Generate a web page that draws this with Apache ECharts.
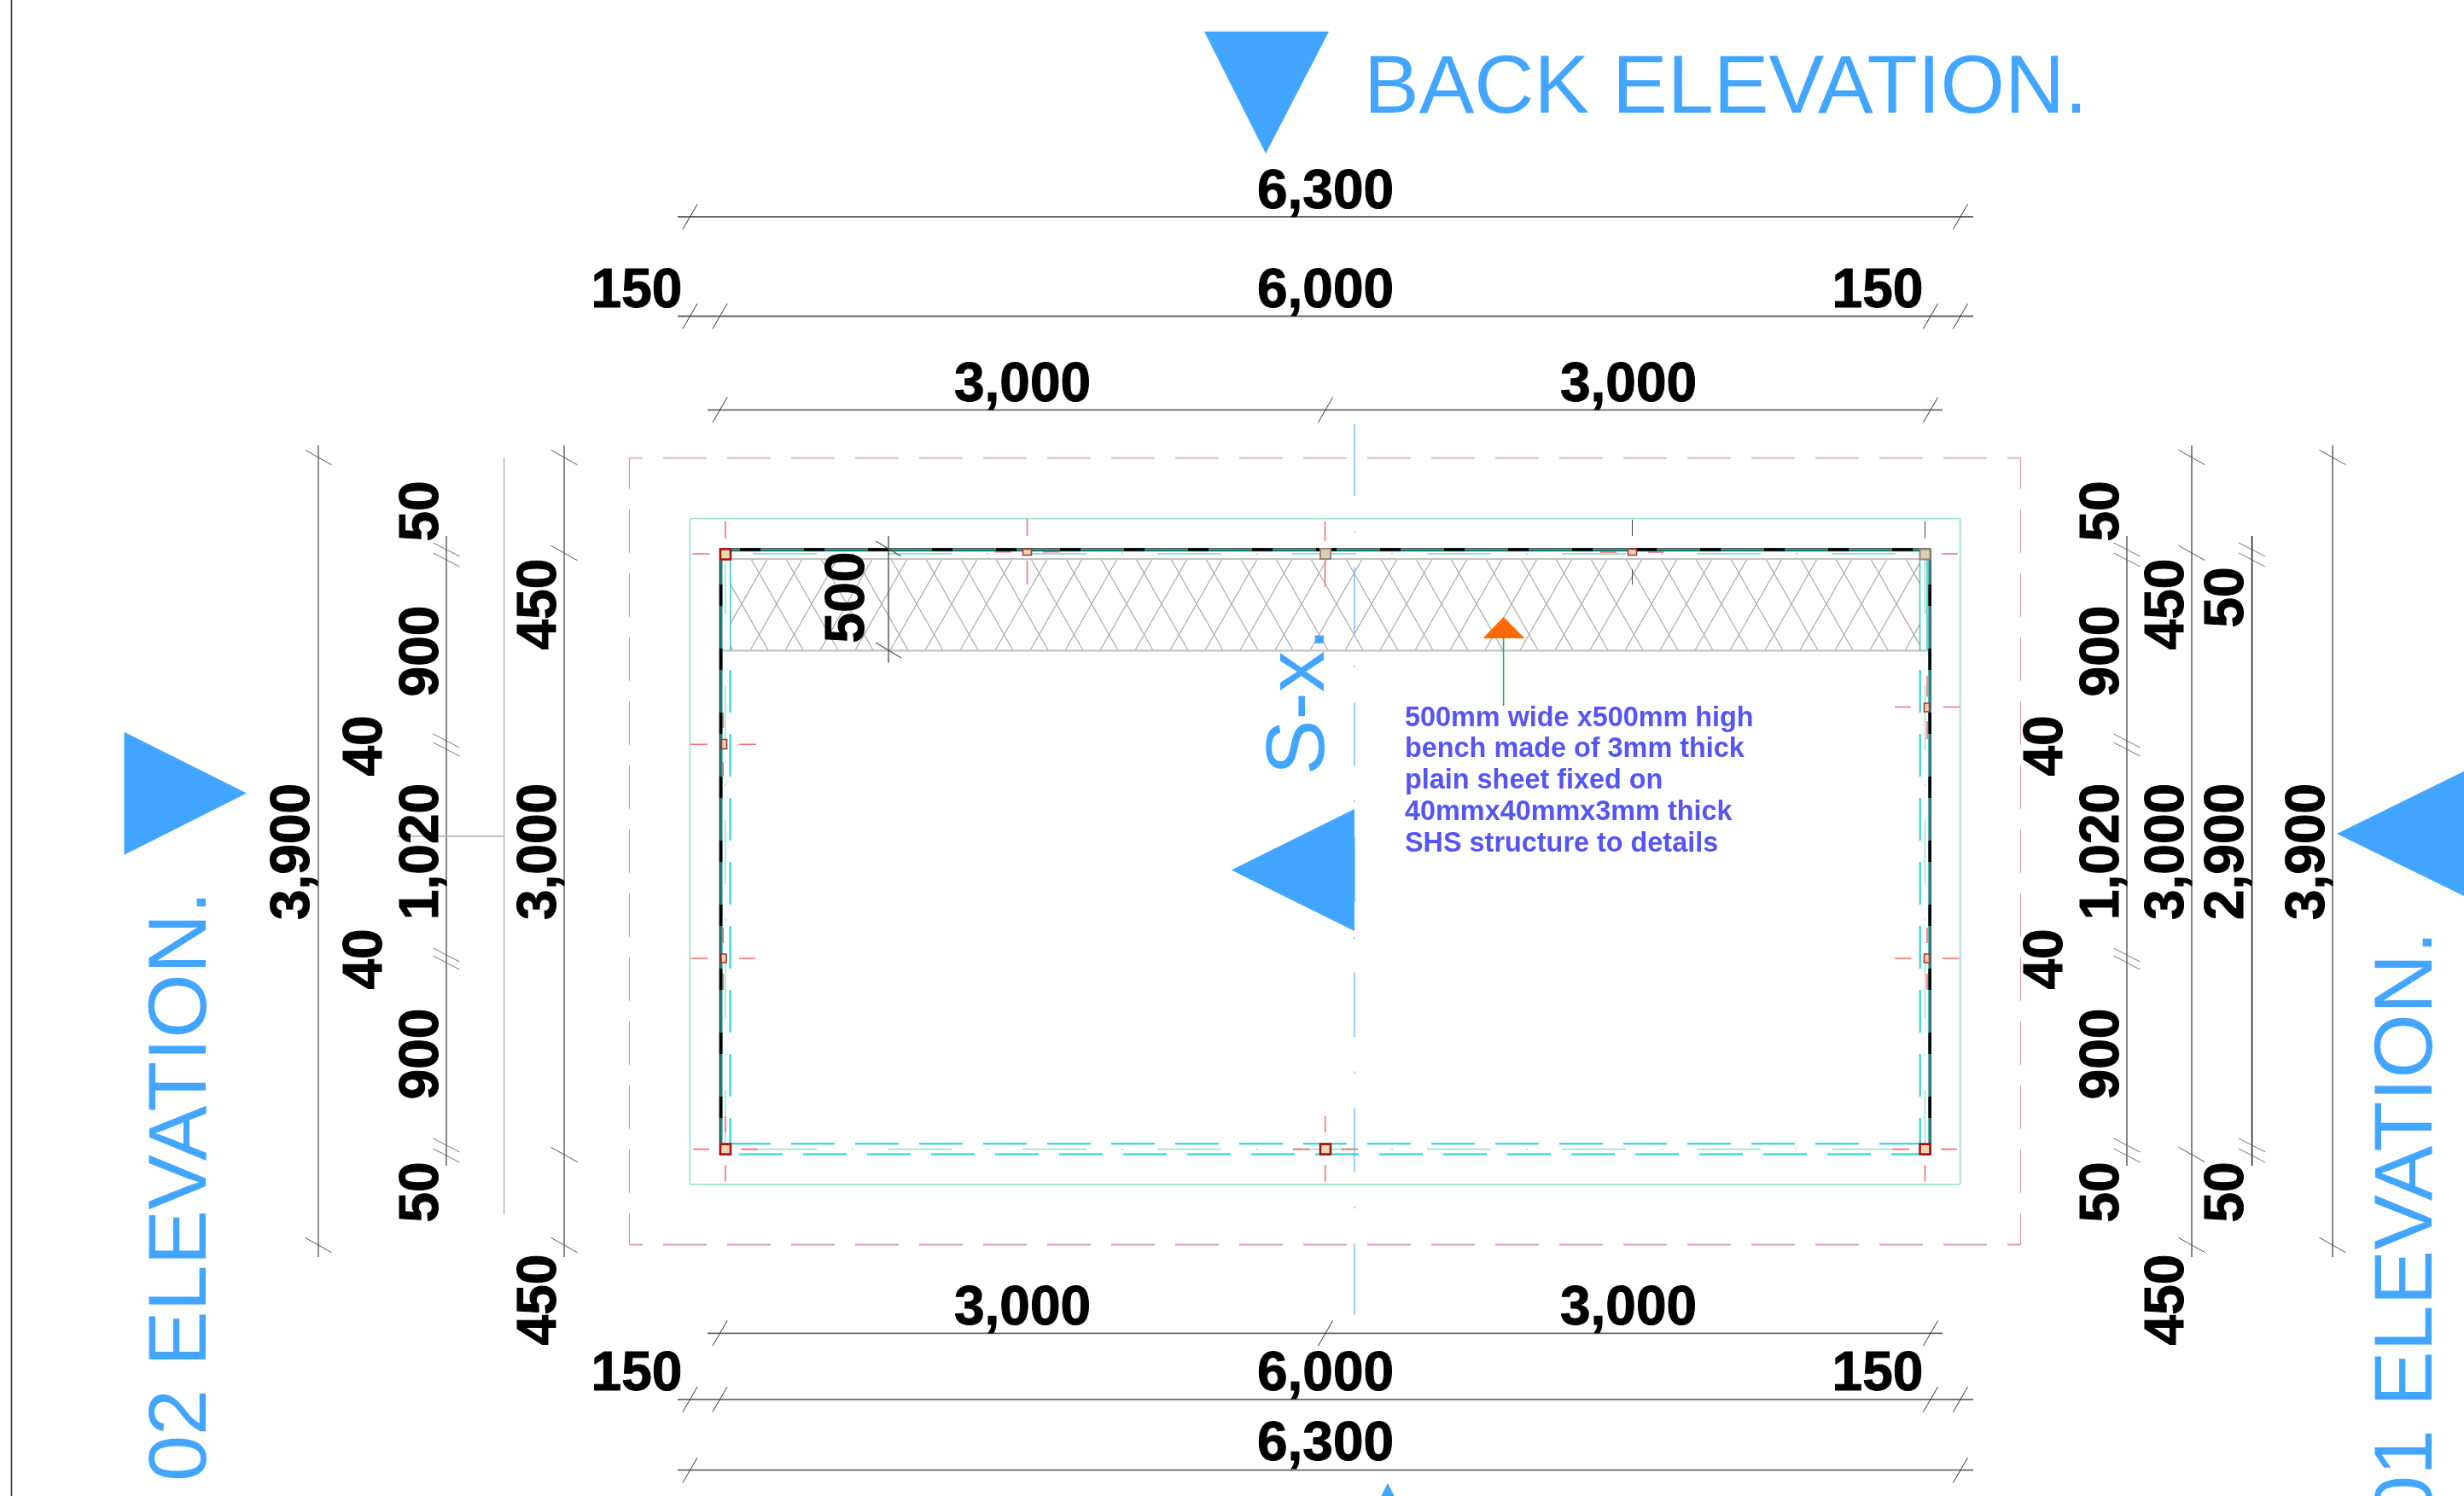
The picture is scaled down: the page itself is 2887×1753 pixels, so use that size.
<!DOCTYPE html>
<html><head><meta charset="utf-8">
<style>html,body{margin:0;padding:0;background:#fff}#c{width:2887px;height:1753px}</style>
<script src="https://cdn.jsdelivr.net/npm/echarts@6/dist/echarts.min.js"></script>
</head><body><div id="c"></div>
<script>
// ---- sheet extent (axis units) ----
const sheetW = 2887, sheetH = 1753;

// ---- texts ----
const dimLabelsH = ["6,300","6,000","150","150","3,000","3,000","3,000","3,000","150","150","6,000","6,300"];
const dimLabelsHX = [1553,1553,746,2200,1198,1908,1198,1908,746,2200,1553,1553];
const dimLabelsHY = [226.5,342.5,342.5,342.5,452.5,452.5,1534,1534,1611.5,1611.5,1611.5,1693.5];
const dimLabelsV = ["3,900","50","900","1,020","900","50","40","40","450","3,000","450","500",
                    "40","40","50","900","1,020","900","50","450","3,000","450","50","2,900","50","3,900"];
const dimLabelsVX = [344,495,495,495,495,495,429,429,633,633,633,994,
                     2398,2398,2464,2464,2464,2464,2464,2540,2540,2540,2610,2610,2610,2705];
const dimLabelsVY = [998,599,763,998,1235,1397,874,1124,708,998,1523,700,
                     874,1124,599,763,998,1235,1397,708,998,1523,700,998,1397,998];
const sectionTitles = ["BACK ELEVATION.","02 ELEVATION.","01 ELEVATION.","S-x."];
const sectionTitleX = [2022,214,2822,1524];
const sectionTitleY = [105,1390,1437,822];
const sectionTitleRot = [0,90,90,90];
const noteLines = ["500mm wide x500mm high","bench made of 3mm thick","plain sheet fixed on","40mmx40mmx3mm thick","SHS structure to details"];
const noteX = 1646;
const noteY = [842,878.5,915,952,989.5];

// ---- dimension lines ----
const dimLinesH = [[794,254,2312,254],[794,370.5,2312,370.5],[829,480.3,2276,480.3],
                   [829,1562.3,2276,1562.3],[794,1639.8,2312,1639.8],[794,1722.7,2312,1722.7]];
const dimTicksHX = [[808.5,2297],[808.5,843.5,2262,2297],[843.5,1553,2262],[843.5,1553,2262],[808.5,843.5,2262,2297],[808.5,2297]];
const dimLinesV = [[373,522,1473],[661,522,1473],[2568,522,1473],[2733,522,1473]];
const dimLinesVFine = [[523,628,1366],[2492,628,1366]];
const fineTicksY = [644,656,868,878,1119,1128,1342,1354];
const dimLinesVEnd = [2638.6,628,1366];
const endTicksY = [644,656,1342,1354];
const dimTicksSingleV = [[373,536],[373,1459],[661,536],[661,648],[661,1353],[661,1459],[2568,536],[2568,648],[2568,1353],[2568,1459],[2733,536],[2733,1459]];
const benchDim = [[1041,628,1041,776.7]];
const benchDimTicks = [[1026,634,1056,652],[1026,753,1056,771]];
const grayLeader = [[590.6,536.5,590.6,1423],[465,980,590.6,980]];

// ---- plan outlines ----
const outerDash = [[[737.5,536.7,2367.5,536.7],35.5,"#e0bcbc",2],[[737.5,1458.6,2367.5,1458.6],35.5,"#d9a3a3",2],
                   [[737.5,536.7,737.5,1458.6],15,"#ee8f8f",1.2],[[2367.5,536.7,2367.5,1458.6],15,"#dba0a0",1.2]];
const slabRect = [[808.5,607.7,2296.7,607.7],[2296.7,607.7,2296.7,1387.8],[808.5,1387.8,2296.7,1387.8],[808.5,607.7,808.5,1387.8]];
const wallTop = [845,645,2262,645];
const wallLeft = [845.3,643,845.3,1353];
const wallRight = [2260.6,643,2260.6,1353];
const wallEdge = [[843,642.8,2262,642.8],[843.4,642.8,843.4,1353],[2262.2,642.8,2262.2,1353]];
const innerDashDot = [[858,649,2250,649],[858,1346.6,2250,1346.6]];
const innerDashDotV = [[850,645,850,1345],[2255.5,645,2255.5,1345]];
const benchEdges = [[845,655,2250,655],[845,762.3,2261,762.3]];
const benchEnds = [[855.8,655,855.8,762.3],[2249.5,655,2249.5,762.3],[2258,655,2258,762.3]];
const benchTopCyan = [856,655,2250,655];
const cyanBottom1 = [852,1340.3,2250,1340.3];
const cyanBottom2 = [852,1352.4,2250,1352.4];
const cyanSideL = [855.6,785,855.6,1342];
const cyanSideR = [2249.7,785,2249.7,1342];

// ---- bench hatch: where each brace meets the bench top ----
const hatchDown = [798,839,880,921,962,1003,1044,1085,1126,1167,1208,1249,1290,1331,1372,1413,1454,1495,1536,1577,1618,1659,1700,1741,1782,1823,1864,1905,1946,1987,2028,2069,2110,2151,2192,2233];
const hatchUp = [899,940,981,1022,1063,1104,1145,1186,1227,1268,1309,1350,1391,1432,1473,1514,1555,1596,1637,1678,1719,1760,1801,1842,1883,1924,1965,2006,2047,2088,2129,2170,2211,2252,2293];
const hatchTop = 655, hatchBottom = 762, hatchRun = 61, hatchL = 856, hatchR = 2249.5;

// ---- column centre-line stubs ----
const gridStubs = [[811.6,649,831.7,649],[2275,649,2294,649],[1165.6,646.7,1184.8,646.7],[1222,646.7,1241.5,646.7],
 [809,872.3,829,872.3],[866,872.3,885.7,872.3],[809.5,1123,829,1123],[866,1123,885,1123],
 [2220,828.5,2239,828.5],[2277,828.5,2296,828.5],[2220,1123,2239.4,1123],[2276,1123,2295.6,1123],
 [1875,647,1894,647],[1931,647,1950,647],
 [812,1346.6,831,1346.6],[868,1346.6,887.6,1346.6],[1515,1346.6,1534.6,1346.6],[1571,1346.6,1591,1346.6],[2217.6,1346.6,2237,1346.6],[2274,1346.6,2293,1346.6],
 [850,610.7,850,630.7],[1203.5,608,1203.5,628],[1203.5,656.7,1203.5,685],[1552.5,611,1552.5,634],[1552.5,657,1552.5,687.6],
 [847.3,835,847.3,853],[847.3,893,847.3,910],[847.3,1087,847.3,1105],[847.3,1141,847.3,1160],
 [850,1308,850,1327],[850,1365,850,1384.5],[1552.7,1308,1552.7,1327],[1552.7,1365,1552.7,1384.5],[2255.5,1365,2255.5,1384.5],
 [2258,791.7,2258,816.6],[2258,845,2258,866],[2258,1087,2258,1105],[2258,1141,2258,1160]];
const darkStubs = [[1912.5,609,1912.5,628],[1912.5,667,1912.5,685],[2255.5,610.7,2255.5,631]];

// ---- columns: centre x, centre y, width, height ----
const columnsBig = [[850,649.5,12,12],[850,1346.6,12,12],[1553,1346.6,12,12],[2255.5,1346.6,12,12]];
const columnsGrey = [[1553,649,12,12],[2255.5,649.5,12,12]];
const columnsSmall = [[1203.5,647,10,7],[1912.5,647,10,7],[848.5,872,6,11],[848,1123,6,10],[2257.5,829,6,10],[2257.5,1123,6,10]];

// ---- section axis ----
const axisDashes = [[497,581],[665,742],[823.5,897],[981,1057],[1139.6,1215],[1298,1373.6],[1457,1540.6]];
const axisDots = [623,781,939,1099,1256.6,1415];
const axisX = 1587;

// ---- markers ----
const blueTriangles = [[1411,37,1557,37,1483,180],[145.5,857.7,289,929.5,145.5,1001.8],
                       [2738,977,2887,903.7,2887,1050],[1442.7,1019.4,1587,948,1587,1091],[1626,1738,1553,1881,1699,1881]];
const orangeTriangle = [[1761.6,723,1737.4,748,1786.5,748]];
const leaderLine = [[1761.6,748,1761.6,827]];
const sheetBorder = [[13.5,0,13.5,1753]];

// ---- helpers ----
const series = [];
function lines(segs, color, width, extra){
  const data = [];
  segs.forEach(s => { data.push([s[0],s[1]],[s[2],s[3]],['-','-']); });
  series.push({type:'line',data,symbol:'none',silent:true,animation:false,clip:false,connectNulls:false,z:(extra&&extra.z)||2,
    lineStyle:Object.assign({color,width,cap:'butt'},extra&&extra.dash?{type:extra.dash,dashOffset:extra.offset||0}:{})});
}
function polys(rows, color, z){
  series.push({type:'custom',data:rows,silent:true,animation:false,clip:true,z:z||3,
    renderItem:(p,api)=>{
      const pts=[];
      for(let i=0;i<6;i+=2) pts.push(api.coord([api.value(i),api.value(i+1)]));
      return {type:'polygon',shape:{points:pts},style:{fill:color}};
    }});
}
function boxes(rows, fill, stroke, lw){
  series.push({type:'custom',data:rows,silent:true,animation:false,z:4,
    renderItem:(p,api)=>{
      const cx=api.value(0),cy=api.value(1),w=api.value(2),h=api.value(3);
      const a=api.coord([cx-w/2,cy-h/2]),b=api.coord([cx+w/2,cy+h/2]);
      return {type:'rect',shape:{x:a[0],y:a[1],width:b[0]-a[0],height:b[1]-a[1]},style:{fill,stroke,lineWidth:lw}};
    }});
}
function texts(labels, xs, ys, rots, font, color, align, strokeW){
  const rows = labels.map((t,i)=>[xs[i],ys[i]]);
  series.push({type:'custom',data:rows,animation:false,clip:false,z:6,
    renderItem:(p,api)=>{
      const c=api.coord([api.value(0),api.value(1)]);
      return {type:'text',x:c[0],y:c[1],rotation:(rots[p.dataIndex]||0)*Math.PI/180,
        style:Object.assign({text:labels[p.dataIndex],font,fill:color,align:align||'center',verticalAlign:'middle'},
          strokeW?{stroke:color,lineWidth:strokeW}:{})};
    }});
}
function clipped(start, dir){
  // one hatch brace, trimmed to the bench ends
  let x1=start,y1=hatchTop,x2=start+dir*hatchRun,y2=hatchBottom;
  const k=(y2-y1)/(x2-x1);
  const trim=(x,y,lim)=>[lim,y+(lim-x)*k];
  if(x1<hatchL){[x1,y1]=trim(x1,y1,hatchL);} if(x1>hatchR){[x1,y1]=trim(x1,y1,hatchR);}
  if(x2<hatchL){[x2,y2]=trim(x2,y2,hatchL);} if(x2>hatchR){[x2,y2]=trim(x2,y2,hatchR);}
  return [x1,y1,x2,y2];
}

// ---- layers ----
lines(sheetBorder,'#333',1.6);
outerDash.forEach(d=>lines([d[0]],d[2],d[3],{dash:[51,24],offset:d[1]}));
lines(slabRect,'#9fe2d4',1.8);

lines(hatchDown.map(a=>clipped(a,1)).concat(hatchUp.map(a=>clipped(a,-1))),'#adadad',1.3);
lines([benchTopCyan],'#4fd6d6',1.6,{dash:[51,24]});
lines(benchEdges,'#c2c2c2',2.2);
lines(benchEnds,'#35c9c9',1.5);
lines(innerDashDot,'#9fe2cf',1.8,{dash:[75,41,2,40],offset:134});
lines(innerDashDotV,'#9fe2cf',1.5,{dash:[75,41,2,40]});
lines([cyanBottom1],'#22d3d3',2,{dash:[51,24]});
lines([cyanBottom2],'#22d3d3',2,{dash:[51,24],offset:61});
lines([cyanSideL,cyanSideR],'#22cfcf',2,{dash:[50,25]});

lines(gridStubs,'#ff6a6a',1.6);
lines(darkStubs,'#444',1);
lines(wallEdge,'#222',1.2,{z:3});
lines([wallTop],'#0a7d7d',2.6,{z:3});
lines([[845,644,2262,644]],'#000',3.4,{dash:[24,51],offset:-22,z:3});
lines([wallLeft,wallRight],'#0a8a8a',2.4,{z:3});
lines([[844.6,643,844.6,1353],[2261.2,643,2261.2,1353]],'#000',3.6,{dash:[25,50],offset:-42,z:3});

boxes(columnsBig,'#e6d8b0','#a81414',2.6);
boxes(columnsGrey,'#d5d3b0','#a08080',2);
boxes(columnsSmall,'#e6d8b0','#b03030',1.6);

axisDashes.forEach(d=>lines([[axisX,d[0],axisX,d[1]]],'#6ab4fb',1.3));
lines(axisDots.map(y=>[axisX,y-1,axisX,y+1]),'#6ab4fb',1.3);

dimLinesH.forEach(s=>lines([s],'#666',1.8));
dimLinesH.forEach((s,i)=>lines(dimTicksHX[i].map(x=>[x-8.6,s[1]+14.8,x+8.6,s[1]-14.8]),'#333',1));
dimLinesV.forEach((d,i)=>lines([[d[0],d[1],d[0],d[2]]],i==2||i==3?'#777':'#444',i==2||i==3?1.8:1.2));
dimTicksSingleV.forEach(t=>lines([[t[0]-15.5,t[1]-8.7,t[0]+15.5,t[1]+8.7]],'#555',1));
dimLinesVFine.forEach(d=>{
  lines([[d[0],d[1],d[0],d[2]]],'#555',1.4);
  lines(fineTicksY.map(y=>[d[0]-15.5,y-8,d[0]+15.5,y+8]),'#666',0.9);
});
lines([[dimLinesVEnd[0],dimLinesVEnd[1],dimLinesVEnd[0],dimLinesVEnd[2]]],'#111',1.4);
lines(endTicksY.map(y=>[dimLinesVEnd[0]-15.5,y-8,dimLinesVEnd[0]+15.5,y+8]),'#666',0.9);
lines(grayLeader,'#b0b0b0',1.3);
lines(benchDim,'#444',1.3,{z:5});
lines(benchDimTicks,'#555',1.2,{z:5});

polys(blueTriangles,'#42a5ff',5);
polys(orangeTriangle,'#ff6a00',5);
lines(leaderLine,'#1fb04c',1.6);

const dimFont = 'bold 64px "Liberation Sans", Arial, sans-serif';
texts(dimLabelsH,dimLabelsHX,dimLabelsHY,dimLabelsH.map(()=>0),dimFont,'#000',null,1);
texts(dimLabelsV,dimLabelsVX,dimLabelsVY,dimLabelsV.map(()=>90),dimFont,'#000',null,1);
texts(sectionTitles,sectionTitleX,sectionTitleY,sectionTitleRot,'97px "Liberation Sans", Arial, sans-serif','#42a5ff');
texts(noteLines,noteLines.map(()=>noteX),noteY,noteLines.map(()=>0),'bold 32.4px "Liberation Sans", Arial, sans-serif','#5555f5','left');

const chart = echarts.init(document.getElementById('c'),null,{renderer:'canvas',width:sheetW,height:sheetH});
chart.setOption({
  animation:false,
  backgroundColor:'#fff',
  grid:{left:0,right:0,top:0,bottom:0},
  xAxis:{type:'value',min:0,max:sheetW,show:false},
  yAxis:{type:'value',min:0,max:sheetH,inverse:true,show:false},
  tooltip:{show:false},
  series
});
</script></body></html>
